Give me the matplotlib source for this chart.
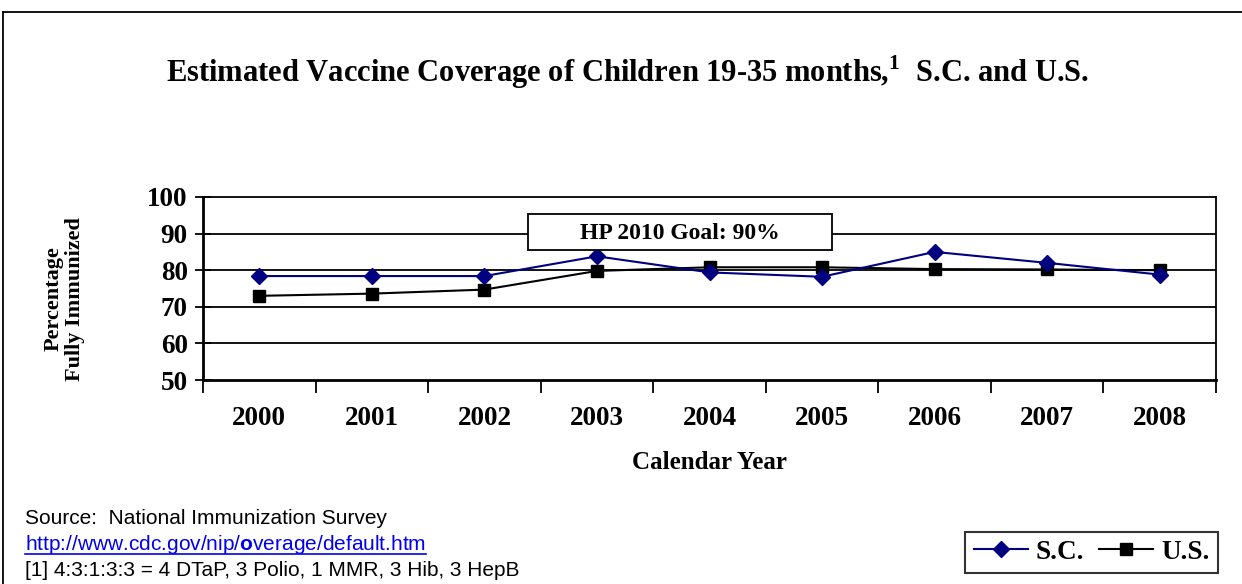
import numpy as np
import matplotlib
matplotlib.use("Agg")
import matplotlib.pyplot as plt
from matplotlib.patches import Rectangle
from matplotlib.lines import Line2D

# Survey years and coverage estimates (percent fully immunized, 4:3:1:3:3 series)
years = ["2000", "2001", "2002", "2003", "2004", "2005", "2006", "2007", "2008"]
sc_coverage = [78.4, 78.4, 78.4, 83.8, 79.4, 78.2, 85.0, 82.0, 78.8]
us_coverage = [73.0, 73.6, 74.7, 79.8, 80.8, 80.8, 80.3, 80.2, 80.0]
goal_value = 90
y_ticks = [50, 60, 70, 80, 90, 100]

serif = "Liberation Serif"
sans = "Liberation Sans"
plt.rcParams["mathtext.fontset"] = "custom"
plt.rcParams["mathtext.rm"] = serif
plt.rcParams["mathtext.bf"] = serif + ":bold"
plt.rcParams["mathtext.sf"] = sans + ":bold"

W, H = 1242, 584
fig = plt.figure(figsize=(W / 100, H / 100), dpi=100)

def fx(px):
    return px / W

def fy(py):
    return 1 - py / H

# outer frame around the figure (runs off the right and bottom)
fig.add_artist(Line2D([fx(3), fx(3)], [fy(12), fy(600)], color="black", lw=1.3))
fig.add_artist(Line2D([fx(3), fx(1260)], [fy(12), fy(12)], color="black", lw=1.3))
fig.text(fx(12), fy(-4), "Figure", fontfamily=serif, fontweight="bold", fontsize=14,
         va="baseline", ha="left")

ax = fig.add_axes([fx(203), fy(380), fx(1216) - fx(203), fy(197) - fy(380)])
x = np.arange(len(years))

ax.plot(x, sc_coverage, color="#000080", lw=1.5, marker="D", markersize=8,
        label="S.C.", zorder=4)
ax.plot(x, us_coverage, color="black", lw=1.5, marker="s", markersize=8.5,
        label="U.S.", zorder=3)

ax.set_xlim(-0.5, len(years) - 0.5)
ax.set_ylim(50, 100)
ax.set_yticks(y_ticks)
ax.set_yticklabels([str(v) for v in y_ticks], fontfamily=serif, fontweight="bold",
                   fontsize=19.5)
ax.tick_params(axis="y", direction="inout", length=12, width=1.3, pad=5)
for v in y_ticks[1:-1]:
    ax.axhline(v, color="black", lw=1.3, zorder=1)

ax.set_xticks(x)
ax.set_xticklabels(years, fontfamily=serif, fontweight="bold", fontsize=19.5)
ax.tick_params(axis="x", length=0, pad=19)
ax.set_xticks(np.arange(len(years) + 1) - 0.5, minor=True)
ax.tick_params(axis="x", which="minor", direction="out", length=9, width=1.3)

for s in ax.spines.values():
    s.set_linewidth(1.3)
ax.spines["left"].set_linewidth(2)
ax.spines["bottom"].set_linewidth(2)

ax.set_xlabel("Calendar Year", fontfamily=serif, fontweight="bold", fontsize=18,
              labelpad=14)

# goal label box sitting on the 90% gridline
ax.add_patch(Rectangle((2.386, 85.4), 2.70, 9.9, facecolor="white",
                       edgecolor="black", lw=1.3, zorder=5))
ax.text(3.74, goal_value, "HP 2010 Goal: 90%", fontfamily=serif, fontweight="bold",
        fontsize=17, ha="center", va="center", zorder=6)

fig.text(fx(64), fy(299), "Percentage\nFully Immunized", rotation=90,
         fontfamily=serif, fontweight="bold", fontsize=16, ha="center",
         va="center", linespacing=1.1)

fig.text(fx(628), fy(72),
         r"Estimated Vaccine Coverage of Children 19-35 months,$^{\mathbf{1}}$  S.C. and U.S.",
         fontfamily=serif, fontweight="bold", fontsize=22, ha="center", va="center")

leg = fig.legend(loc="lower right", bbox_to_anchor=(fx(1218), fy(573)), ncol=2,
                 prop={"family": serif, "weight": "bold", "size": 19.5},
                 frameon=True, fancybox=False, handlelength=2.0,
                 handletextpad=0.3, columnspacing=0.55, borderpad=0.3,
                 borderaxespad=0)
leg.get_frame().set_edgecolor("black")
leg.get_frame().set_linewidth(1.5)

# source notes
note_size = 15
fig.text(fx(25), fy(518), "Source:  National Immunization Survey", fontfamily=sans,
         fontsize=note_size, va="center", ha="left")
link = fig.text(fx(25), fy(544), r"http://www.cdc.gov/nip/$\mathsf{o}$verage/default.htm",
                fontfamily=sans, fontsize=note_size, va="center", ha="left",
                color="#0000ee")
renderer = fig.canvas.get_renderer()
link_box = link.get_window_extent(renderer)
fig.add_artist(Line2D([fx(25), link_box.x1 / W], [fy(554), fy(554)],
                      color="#0000ee", lw=1.2))
fig.text(fx(25), fy(570), "[1] 4:3:1:3:3 = 4 DTaP, 3 Polio, 1 MMR, 3 Hib, 3 HepB",
         fontfamily=sans, fontsize=note_size, va="center", ha="left")

fig.savefig("out.png", dpi=100)
